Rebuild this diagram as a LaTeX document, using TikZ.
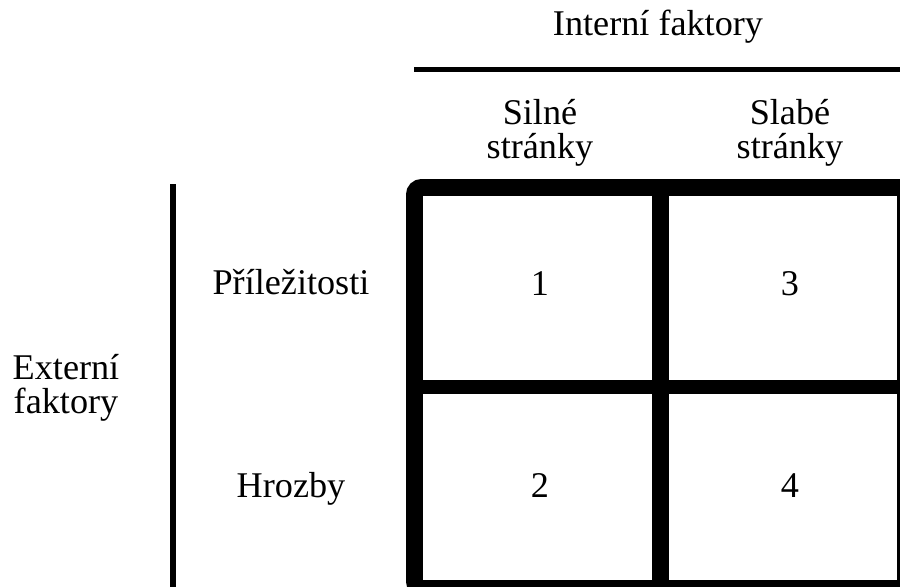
\documentclass[tikz,border=0pt]{standalone}
\usepackage{fontspec}
\setmainfont{Liberation Serif}

\begin{document}
\begin{tikzpicture}[x=0.02cm,y=-0.02cm]
	\tikzstyle{hnode}=[anchor=base,align=center,inner sep=0pt,font=\fontsize{20.6}{18.8}\selectfont];
	\tikzstyle{rnode}=[hnode];
	\tikzstyle{cnode}=[hnode];
	\tikzstyle{rule}=[draw=black,line width=3pt];
	\tikzstyle{grid}=[draw=black,line width=9.6pt];

	\clip (0,0) rectangle (900,586);

	% headers
	\node[hnode] (intf) at (658,35) {Interní faktory};
	\node[hnode] (silne) at (540,158) {Silné\\stránky};
	\node[hnode] (slabe) at (790,158) {Slabé\\stránky};

	\node[rnode] (extf) at (66,413) {Externí\\faktory};
	\node[rnode] (prl) at (291,294) {Příležitosti};
	\node[rnode] (hro) at (291,497) {Hrozby};

	% cells
	\node[cnode] (c1) at (540,295) {1};
	\node[cnode] (c3) at (790,295) {3};
	\node[cnode] (c2) at (540,497) {2};
	\node[cnode] (c4) at (790,497) {4};

	\coordinate (t0) at (414,69.5);
	\coordinate (t1) at (905,69.5);
	\coordinate (l0) at (173,184);
	\coordinate (l1) at (173,600);

	\draw[rule] (t0) -- (t1);
	\draw[rule,line width=3.4pt] (l0) -- (l1);

	\draw[grid,rounded corners=4pt] (414.5,187.5) rectangle (905.5,588.5);
	\draw[grid] (660.5,187.5) -- (660.5,588.5);
	\draw[grid,line width=8pt] (414.5,387) -- (905.5,387);

\end{tikzpicture}
\end{document}
